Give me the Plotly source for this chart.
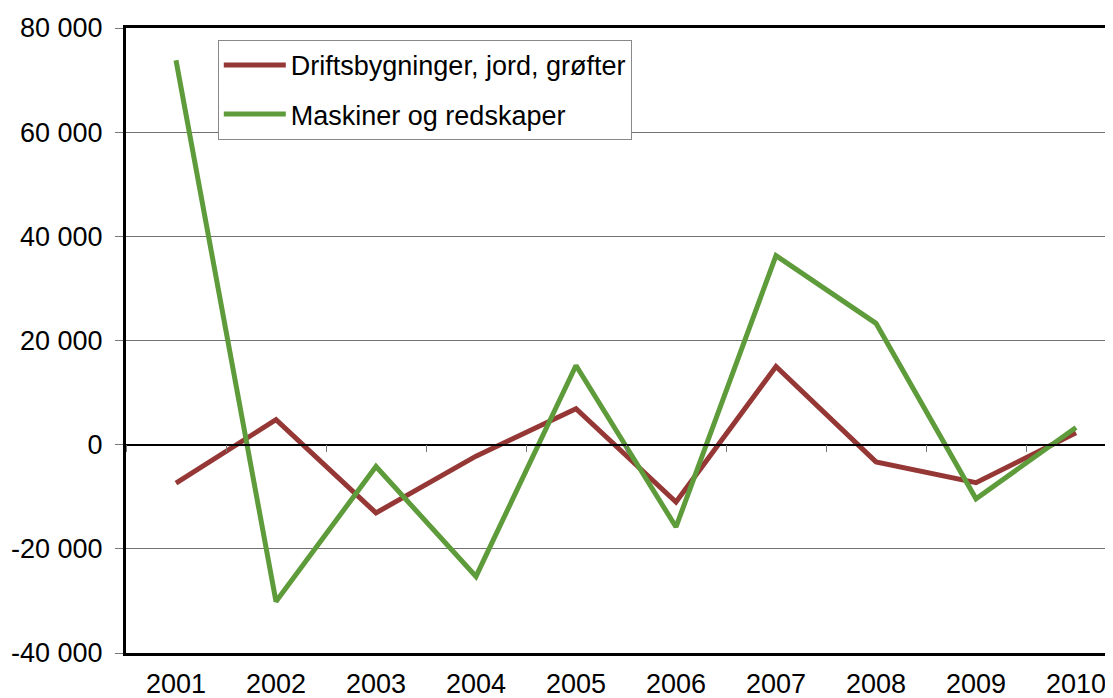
import plotly.graph_objects as go

years = ["2001", "2002", "2003", "2004", "2005", "2006", "2007", "2008", "2009", "2010"]
drifts = [-7400, 4800, -13100, -2200, 6900, -11000, 15000, -3300, -7300, 2300]
maskiner = [73800, -30100, -4200, -25300, 15200, -15800, 36300, 23300, -10400, 3300]
y_tick_vals = [-40000, -20000, 0, 20000, 40000, 60000, 80000]
y_tick_labels = ["-40 000", "-20 000", "0", "20 000", "40 000", "60 000", "80 000"]

red = "#953735"
green = "#5E9B3A"
font = "Liberation Sans, Arial, sans-serif"
fs = 27

fig = go.Figure()
fig.add_trace(go.Scatter(x=years, y=drifts, mode="lines", name="Driftsbygninger, jord, grøfter",
                         line=dict(color=red, width=5), legendgroup="a"))
fig.add_trace(go.Scatter(x=years, y=maskiner, mode="lines", name="Maskiner og redskaper",
                         line=dict(color=green, width=5), legendgroup="b"))
# invisible trace for the category axis drawn at zero
fig.add_trace(go.Scatter(x=years, y=[None] * len(years), xaxis="x2", showlegend=False,
                         hoverinfo="skip", mode="lines"))

# page body has an 8px margin: figure is placed at (8, 8)
fig.update_layout(
    width=1105, height=690,
    margin=dict(l=118, r=0, t=20, b=45),
    paper_bgcolor="white", plot_bgcolor="white",
    font=dict(family=font, size=fs, color="black"),
    showlegend=True,
    legend=dict(x=0.093, y=0.981, xanchor="left", yanchor="top",
                bordercolor="#888888", borderwidth=1, bgcolor="white",
                font=dict(size=fs), tracegroupgap=11, traceorder="grouped",
                itemwidth=62),
    xaxis=dict(type="category", categoryorder="array", categoryarray=years,
               range=[-0.5, 9.37], showgrid=False, zeroline=False,
               showline=True, linecolor="black", linewidth=3, mirror=True,
               ticks="", tickfont=dict(size=fs), ticklabelstandoff=5),
    xaxis2=dict(type="category", categoryorder="array", categoryarray=years,
                range=[-0.5, 9.37], overlaying="x", anchor="free", position=1/3,
                showgrid=False, zeroline=False, showline=True, linecolor="black",
                linewidth=1.5, ticks="outside", tickson="boundaries", ticklen=7,
                tickcolor="#777777", tickwidth=1, showticklabels=False),
    yaxis=dict(range=[-40000, 80000], tickvals=y_tick_vals, ticktext=y_tick_labels,
               showgrid=True, gridcolor="#707070", gridwidth=1, zeroline=False,
               showline=True, linecolor="black", linewidth=3,
               ticks="outside", ticklen=8, tickcolor="#777777",
               tickfont=dict(size=fs), ticklabelstandoff=7),
)

fig.write_html("out.html")
